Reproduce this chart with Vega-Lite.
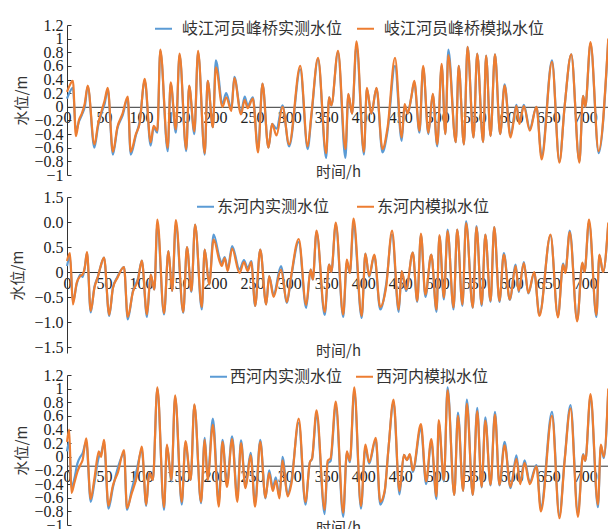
{
"$schema": "https://vega.github.io/schema/vega-lite/v6.json",
"autosize": {"type": "pad"},
"padding": {"left": 10, "top": 17, "right": 0, "bottom": 0},
"background": "white",
"config": {
  "font": "Liberation Serif",
  "view": {"stroke": null},
  "axis": {"grid": false, "labelFont": "'Times New Roman', 'Liberation Serif', 'DejaVu Serif', serif", "labelFontSize": 16, "labelColor": "#222", "domainColor": "#333", "tickColor": "#333", "titleFont": "Noto Sans CJK SC", "titleFontWeight": "normal", "titleFontSize": 15, "titleColor": "#333", "labelOverlap": false, "labelFlush": false},
  "legend": {"labelFont": "Noto Sans CJK SC", "labelFontSize": 16, "labelColor": "#333", "labelLimit": 400, "symbolType": "stroke", "symbolStrokeWidth": 2, "symbolSize": 289, "padding": 0, "title": null, "orient": "none", "direction": "horizontal"}
},
"datasets": {
"p1": [
{"h":0,"o":0.12,"s":0.22},{"h":3,"o":0.2,"s":0.3},{"h":8,"o":0.28,"s":0.38},{"h":12,"o":-0.36,"s":-0.43},{"h":16,"o":-0.22,"s":-0.2},{"h":20,"o":-0.12,"s":-0.1},{"h":24,"o":0.0,"s":0.05},{"h":28,"o":0.3,"s":0.31},{"h":37,"o":-0.6,"s":-0.55},{"h":42,"o":-0.28,"s":-0.25},{"h":47,"o":-0.08,"s":-0.05},{"h":51,"o":0.05,"s":0.1},{"h":55,"o":0.26,"s":0.28},{"h":62,"o":-0.7,"s":-0.66},{"h":68,"o":-0.32,"s":-0.3},{"h":75,"o":-0.13,"s":-0.1},{"h":82,"o":0.12,"s":0.15},{"h":86,"o":-0.7,"s":-0.66},{"h":93,"o":-0.42,"s":-0.4},{"h":98,"o":-0.22,"s":-0.25},{"h":105,"o":0.38,"s":0.41},{"h":113,"o":-0.57,"s":-0.52},{"h":117,"o":-0.3,"s":-0.28},{"h":122,"o":-0.38,"s":-0.35},{"h":126,"o":0.82,"s":0.84},{"h":136,"o":-0.65,"s":-0.6},{"h":140,"o":0.34,"s":0.36},{"h":147,"o":-0.38,"s":-0.33},{"h":152,"o":0.76,"s":0.78},{"h":161,"o":-0.65,"s":-0.62},{"h":165,"o":0.3,"s":0.31},{"h":172,"o":-0.4,"s":-0.36},{"h":177,"o":0.8,"s":0.82},{"h":186,"o":-0.7,"s":-0.68},{"h":190,"o":0.38,"s":0.38},{"h":197,"o":-0.3,"s":-0.3},{"h":201,"o":0.68,"s":0.58},{"h":210,"o":0.05,"s":0.0},{"h":215,"o":0.2,"s":0.14},{"h":222,"o":-0.03,"s":-0.06},{"h":226,"o":0.44,"s":0.42},{"h":235,"o":-0.08,"s":-0.11},{"h":240,"o":0.15,"s":0.1},{"h":244,"o":0.02,"s":-0.02},{"h":251,"o":0.14,"s":0.12},{"h":258,"o":-0.62,"s":-0.67},{"h":264,"o":0.34,"s":0.34},{"h":272,"o":-0.6,"s":-0.6},{"h":277,"o":-0.25,"s":-0.25},{"h":283,"o":-0.32,"s":-0.42},{"h":291,"o":0.02,"s":0.0},{"h":300,"o":-0.58,"s":-0.55},{"h":315,"o":0.55,"s":0.6},{"h":325,"o":-0.62,"s":-0.58},{"h":330,"o":-0.15,"s":-0.12},{"h":339,"o":0.7,"s":0.72},{"h":350,"o":-0.75,"s":-0.68},{"h":354,"o":0.14,"s":0.14},{"h":357,"o":0.02,"s":0.02},{"h":366,"o":0.8,"s":0.82},{"h":376,"o":-0.75,"s":-0.62},{"h":380,"o":0.18,"s":0.19},{"h":385,"o":-0.1,"s":-0.1},{"h":391,"o":0.9,"s":0.96},{"h":401,"o":-0.7,"s":-0.66},{"h":405,"o":0.26,"s":0.28},{"h":411,"o":-0.1,"s":-0.1},{"h":418,"o":0.27,"s":0.28},{"h":426,"o":-0.67,"s":-0.62},{"h":433,"o":-0.35,"s":-0.3},{"h":443,"o":0.6,"s":0.72},{"h":452,"o":-0.5,"s":-0.45},{"h":456,"o":0.02,"s":0.04},{"h":460,"o":-0.1,"s":-0.1},{"h":465,"o":0.14,"s":0.14},{"h":469,"o":0.36,"s":0.38},{"h":476,"o":-0.38,"s":-0.35},{"h":481,"o":0.58,"s":0.6},{"h":488,"o":-0.4,"s":-0.38},{"h":494,"o":0.18,"s":0.19},{"h":500,"o":-0.58,"s":-0.55},{"h":506,"o":0.6,"s":0.63},{"h":511,"o":-0.4,"s":-0.4},{"h":515,"o":0.84,"s":0.76},{"h":525,"o":-0.52,"s":-0.52},{"h":529,"o":0.6,"s":0.6},{"h":536,"o":-0.55,"s":-0.55},{"h":541,"o":0.88,"s":0.88},{"h":549,"o":-0.45,"s":-0.45},{"h":554,"o":0.78,"s":0.78},{"h":562,"o":-0.52,"s":-0.52},{"h":566,"o":0.75,"s":0.75},{"h":572,"o":-0.43,"s":-0.43},{"h":578,"o":0.77,"s":0.77},{"h":585,"o":-0.4,"s":-0.4},{"h":591,"o":0.33,"s":0.31},{"h":599,"o":-0.42,"s":-0.45},{"h":607,"o":0.03,"s":0.01},{"h":611,"o":-0.22,"s":-0.25},{"h":617,"o":0.03,"s":0.01},{"h":625,"o":-0.32,"s":-0.35},{"h":634,"o":0.0,"s":0.0},{"h":641,"o":-0.72,"s":-0.77},{"h":655,"o":0.68,"s":0.66},{"h":665,"o":-0.8,"s":-0.82},{"h":672,"o":0.0,"s":0.0},{"h":681,"o":0.77,"s":0.77},{"h":692,"o":-0.8,"s":-0.82},{"h":697,"o":0.16,"s":0.16},{"h":700,"o":0.0,"s":0.0},{"h":707,"o":0.93,"s":0.95},{"h":718,"o":-0.68,"s":-0.65},{"h":731,"o":0.98,"s":1.0}
],
"p2": [
{"h":0,"o":0.12,"s":0.22},{"h":4,"o":0.3,"s":0.38},{"h":8,"o":-0.6,"s":-0.65},{"h":13,"o":-0.25,"s":-0.22},{"h":18,"o":-0.05,"s":-0.08},{"h":21,"o":-0.1,"s":-0.05},{"h":24,"o":0.09,"s":0.09},{"h":27,"o":0.38,"s":0.4},{"h":32,"o":-0.81,"s":-0.78},{"h":37,"o":-0.3,"s":-0.32},{"h":42,"o":-0.08,"s":-0.08},{"h":45,"o":0.09,"s":0.09},{"h":50,"o":0.29,"s":0.29},{"h":57,"o":-0.88,"s":-0.86},{"h":62,"o":-0.32,"s":-0.32},{"h":68,"o":-0.1,"s":-0.12},{"h":77,"o":0.1,"s":0.1},{"h":82,"o":-0.95,"s":-0.9},{"h":89,"o":-0.38,"s":-0.4},{"h":96,"o":-0.12,"s":-0.15},{"h":101,"o":0.23,"s":0.23},{"h":108,"o":-0.9,"s":-0.85},{"h":113,"o":-0.05,"s":-0.05},{"h":118,"o":-0.35,"s":-0.35},{"h":122,"o":0.95,"s":1.05},{"h":131,"o":-0.85,"s":-0.82},{"h":137,"o":0.42,"s":0.42},{"h":142,"o":-0.38,"s":-0.38},{"h":147,"o":0.95,"s":1.04},{"h":157,"o":-0.82,"s":-0.8},{"h":162,"o":0.5,"s":0.5},{"h":168,"o":-0.4,"s":-0.38},{"h":173,"o":0.95,"s":0.95},{"h":182,"o":-0.75,"s":-0.7},{"h":186,"o":0.45,"s":0.45},{"h":192,"o":-0.25,"s":-0.25},{"h":198,"o":0.75,"s":0.65},{"h":206,"o":0.28,"s":0.22},{"h":209,"o":0.18,"s":0.12},{"h":213,"o":0.3,"s":0.28},{"h":217,"o":0.06,"s":0.02},{"h":223,"o":0.52,"s":0.47},{"h":233,"o":0.05,"s":-0.02},{"h":239,"o":0.24,"s":0.2},{"h":244,"o":0.08,"s":0.02},{"h":249,"o":0.22,"s":0.2},{"h":254,"o":-0.68,"s":-0.68},{"h":261,"o":0.45,"s":0.45},{"h":269,"o":-0.65,"s":-0.65},{"h":273,"o":-0.08,"s":-0.08},{"h":279,"o":-0.45,"s":-0.5},{"h":289,"o":0.12,"s":0.05},{"h":297,"o":-0.62,"s":-0.6},{"h":302,"o":-0.18,"s":-0.15},{"h":313,"o":0.6,"s":0.66},{"h":323,"o":-0.72,"s":-0.66},{"h":329,"o":0.05,"s":0.05},{"h":332,"o":-0.15,"s":-0.15},{"h":337,"o":0.8,"s":0.83},{"h":348,"o":-0.86,"s":-0.8},{"h":354,"o":0.15,"s":0.15},{"h":357,"o":0.0,"s":0.0},{"h":363,"o":0.95,"s":0.99},{"h":373,"o":-0.9,"s":-0.85},{"h":378,"o":0.2,"s":0.25},{"h":382,"o":-0.02,"s":-0.02},{"h":387,"o":0.95,"s":1.07},{"h":398,"o":-0.92,"s":-0.88},{"h":403,"o":0.37,"s":0.37},{"h":408,"o":-0.1,"s":-0.08},{"h":415,"o":0.33,"s":0.35},{"h":423,"o":-0.75,"s":-0.7},{"h":431,"o":-0.25,"s":-0.3},{"h":439,"o":0.75,"s":0.83},{"h":448,"o":-0.8,"s":-0.75},{"h":452,"o":0.02,"s":0.02},{"h":458,"o":-0.38,"s":-0.35},{"h":467,"o":0.39,"s":0.39},{"h":473,"o":-0.6,"s":-0.58},{"h":478,"o":0.75,"s":0.77},{"h":484,"o":-0.5,"s":-0.45},{"h":492,"o":0.35,"s":0.35},{"h":499,"o":-0.8,"s":-0.75},{"h":503,"o":0.72,"s":0.74},{"h":509,"o":-0.55,"s":-0.51},{"h":514,"o":0.85,"s":0.82},{"h":522,"o":-0.75,"s":-0.71},{"h":527,"o":0.85,"s":0.85},{"h":534,"o":-0.68,"s":-0.65},{"h":539,"o":1.02,"s":0.98},{"h":548,"o":-0.72,"s":-0.71},{"h":553,"o":0.92,"s":0.9},{"h":560,"o":-0.68,"s":-0.65},{"h":565,"o":0.75,"s":0.75},{"h":572,"o":-0.6,"s":-0.58},{"h":577,"o":0.9,"s":0.9},{"h":584,"o":-0.6,"s":-0.58},{"h":590,"o":0.38,"s":0.35},{"h":598,"o":-0.56,"s":-0.55},{"h":606,"o":0.15,"s":0.12},{"h":610,"o":-0.4,"s":-0.38},{"h":617,"o":0.2,"s":0.18},{"h":623,"o":-0.43,"s":-0.42},{"h":631,"o":-0.02,"s":0.0},{"h":638,"o":-0.85,"s":-0.88},{"h":653,"o":0.73,"s":0.75},{"h":663,"o":-0.88,"s":-0.91},{"h":670,"o":0.17,"s":0.15},{"h":673,"o":0.0,"s":-0.02},{"h":679,"o":0.83,"s":0.8},{"h":689,"o":-0.96,"s":-0.99},{"h":696,"o":0.17,"s":0.19},{"h":699,"o":0.0,"s":0.0},{"h":705,"o":1.0,"s":1.05},{"h":715,"o":-0.9,"s":-0.86},{"h":719,"o":0.33,"s":0.35},{"h":724,"o":0.0,"s":0.0},{"h":731,"o":0.95,"s":0.99}
],
"p3": [
{"h":0,"o":0.08,"s":0.22},{"h":3,"o":0.22,"s":0.4},{"h":6,"o":-0.45,"s":-0.53},{"h":10,"o":-0.32,"s":-0.38},{"h":14,"o":-0.1,"s":-0.22},{"h":18,"o":0.0,"s":-0.12},{"h":21,"o":0.05,"s":-0.05},{"h":26,"o":0.22,"s":0.27},{"h":32,"o":-0.66,"s":-0.62},{"h":37,"o":-0.38,"s":-0.32},{"h":43,"o":0.0,"s":0.08},{"h":46,"o":0.05,"s":0.0},{"h":50,"o":0.2,"s":0.25},{"h":56,"o":-0.76,"s":-0.72},{"h":62,"o":-0.45,"s":-0.42},{"h":69,"o":-0.15,"s":-0.22},{"h":77,"o":0.05,"s":0.1},{"h":81,"o":-0.78,"s":-0.75},{"h":87,"o":-0.5,"s":-0.55},{"h":94,"o":-0.2,"s":-0.3},{"h":101,"o":0.1,"s":0.15},{"h":107,"o":-0.72,"s":-0.7},{"h":111,"o":-0.24,"s":-0.24},{"h":116,"o":-0.34,"s":-0.34},{"h":122,"o":1.0,"s":1.02},{"h":131,"o":-0.78,"s":-0.74},{"h":135,"o":0.16,"s":0.18},{"h":141,"o":-0.36,"s":-0.34},{"h":146,"o":0.88,"s":0.9},{"h":155,"o":-0.7,"s":-0.66},{"h":160,"o":0.2,"s":0.23},{"h":167,"o":-0.34,"s":-0.34},{"h":172,"o":0.76,"s":0.77},{"h":181,"o":-0.68,"s":-0.66},{"h":186,"o":0.28,"s":0.25},{"h":190,"o":-0.3,"s":-0.34},{"h":197,"o":0.56,"s":0.47},{"h":205,"o":-0.66,"s":-0.73},{"h":210,"o":0.25,"s":0.22},{"h":216,"o":-0.4,"s":-0.44},{"h":223,"o":0.3,"s":0.26},{"h":230,"o":-0.6,"s":-0.66},{"h":235,"o":0.24,"s":0.2},{"h":241,"o":-0.44,"s":-0.46},{"h":248,"o":0.06,"s":0.02},{"h":254,"o":-0.68,"s":-0.73},{"h":261,"o":0.25,"s":0.22},{"h":268,"o":-0.61,"s":-0.6},{"h":273,"o":-0.2,"s":-0.24},{"h":278,"o":-0.45,"s":-0.5},{"h":282,"o":-0.3,"s":-0.35},{"h":287,"o":-0.58,"s":-0.61},{"h":291,"o":0.0,"s":-0.05},{"h":298,"o":-0.55,"s":-0.58},{"h":303,"o":-0.35,"s":-0.4},{"h":313,"o":0.5,"s":0.56},{"h":322,"o":-0.7,"s":-0.66},{"h":328,"o":-0.08,"s":-0.08},{"h":331,"o":-0.03,"s":-0.02},{"h":337,"o":0.62,"s":0.68},{"h":348,"o":-0.84,"s":-0.78},{"h":352,"o":-0.1,"s":-0.06},{"h":356,"o":-0.06,"s":-0.02},{"h":363,"o":0.75,"s":0.81},{"h":373,"o":-0.88,"s":-0.82},{"h":378,"o":0.06,"s":0.08},{"h":382,"o":-0.08,"s":-0.06},{"h":388,"o":0.96,"s":1.02},{"h":397,"o":-0.76,"s":-0.72},{"h":403,"o":0.14,"s":0.18},{"h":408,"o":-0.1,"s":-0.08},{"h":417,"o":0.25,"s":0.28},{"h":423,"o":-0.7,"s":-0.66},{"h":429,"o":-0.52,"s":-0.5},{"h":434,"o":0.1,"s":0.1},{"h":441,"o":0.8,"s":0.84},{"h":449,"o":-0.55,"s":-0.5},{"h":455,"o":0.03,"s":0.03},{"h":459,"o":-0.05,"s":-0.05},{"h":463,"o":0.03,"s":0.04},{"h":467,"o":-0.22,"s":-0.2},{"h":478,"o":0.42,"s":0.48},{"h":485,"o":-0.4,"s":-0.36},{"h":492,"o":0.22,"s":0.26},{"h":499,"o":-0.62,"s":-0.58},{"h":502,"o":0.5,"s":0.54},{"h":509,"o":-0.36,"s":-0.34},{"h":514,"o":1.02,"s":0.98},{"h":523,"o":-0.56,"s":-0.56},{"h":528,"o":0.65,"s":0.6},{"h":535,"o":-0.5,"s":-0.5},{"h":540,"o":0.84,"s":0.78},{"h":548,"o":-0.56,"s":-0.56},{"h":554,"o":0.72,"s":0.67},{"h":560,"o":-0.45,"s":-0.44},{"h":565,"o":0.58,"s":0.53},{"h":572,"o":-0.42,"s":-0.41},{"h":578,"o":0.66,"s":0.62},{"h":584,"o":-0.42,"s":-0.41},{"h":591,"o":0.22,"s":0.17},{"h":599,"o":-0.46,"s":-0.44},{"h":607,"o":0.02,"s":-0.03},{"h":612,"o":-0.37,"s":-0.4},{"h":618,"o":-0.05,"s":-0.09},{"h":625,"o":-0.37,"s":-0.4},{"h":634,"o":-0.12,"s":-0.14},{"h":640,"o":-0.75,"s":-0.8},{"h":655,"o":0.66,"s":0.6},{"h":665,"o":-0.86,"s":-0.9},{"h":672,"o":-0.05,"s":-0.07},{"h":680,"o":0.76,"s":0.71},{"h":690,"o":-0.83,"s":-0.88},{"h":697,"o":0.04,"s":0.03},{"h":700,"o":-0.06,"s":-0.06},{"h":707,"o":0.88,"s":0.92},{"h":717,"o":-0.74,"s":-0.7},{"h":721,"o":0.16,"s":0.18},{"h":725,"o":-0.02,"s":0.0},{"h":731,"o":0.96,"s":1.0}
]
},
"vconcat": [
{
"width": 542, "height": 150,
"data": {"name": "p1"},
"encoding": {"x": {"field": "h", "type": "quantitative", "scale": {"domain": [0, 732], "nice": false, "zero": false},
  "axis": {"values": [0,50,100,150,200,250,300,350,400,450,500,550,600,650,700], "offset": -68.2, "ticks": false, "labelPadding": 3, "title": "时间/h", "titleY": 65, "titleBaseline": "middle"}}},
"layer": [
{"mark": {"type": "line", "interpolate": "monotone", "strokeWidth": 2.2},
 "encoding": {"y": {"field": "o", "type": "quantitative", "scale": {"domain": [-1, 1.2], "nice": false, "zero": false}, "axis": {"values": [-1,-0.8,-0.6,-0.4,-0.2,0,0.2,0.4,0.6,0.8,1,1.2], "format": "~g", "tickSize": -4, "labelPadding": 8, "title": "水位/m", "titlePadding": 4}},
  "color": {"datum": "岐江河员峰桥实测水位", "scale": {"domain": ["岐江河员峰桥实测水位", "岐江河员峰桥模拟水位"], "range": ["#5B9BD5", "#ED7D31"]}, "legend": {"legendX": 87, "legendY": -6, "labelOffset": 9, "columnPadding": 10, "labelExpr": "datum.label == '岐江河员峰桥模拟水位' ? '\u00a0\u00a0\u00a0' + datum.label : datum.label"}}}},
{"mark": {"type": "line", "interpolate": "monotone", "strokeWidth": 2.2},
 "encoding": {"y": {"field": "s", "type": "quantitative", "scale": {"domain": [-1, 1.2], "nice": false, "zero": false}, "axis": {"values": [-1,-0.8,-0.6,-0.4,-0.2,0,0.2,0.4,0.6,0.8,1,1.2], "format": "~g", "tickSize": -4, "labelPadding": 8, "title": "水位/m", "titlePadding": 4}},
  "color": {"datum": "岐江河员峰桥模拟水位", "scale": {"domain": ["岐江河员峰桥实测水位", "岐江河员峰桥模拟水位"], "range": ["#5B9BD5", "#ED7D31"]}, "legend": {"legendX": 87, "legendY": -6, "labelOffset": 9, "columnPadding": 10, "labelExpr": "datum.label == '岐江河员峰桥模拟水位' ? '\u00a0\u00a0\u00a0' + datum.label : datum.label"}}}}
]
},
{
"width": 542, "height": 156,
"data": {"name": "p2"},
"encoding": {"x": {"field": "h", "type": "quantitative", "scale": {"domain": [0, 732], "nice": false, "zero": false},
  "axis": {"values": [0,50,100,150,200,250,300,350,400,450,500,550,600,650,700], "offset": -81, "ticks": false, "labelPadding": 3, "title": "时间/h", "titleY": 78, "titleBaseline": "middle"}}},
"layer": [
{"mark": {"type": "line", "interpolate": "monotone", "strokeWidth": 2.2},
 "encoding": {"y": {"field": "o", "type": "quantitative", "scale": {"domain": [-1.62, 1.5], "nice": false, "zero": false}, "axis": {"values": [-1.5,-1,-0.5,0,0.5,1,1.5], "labelExpr": "datum.value == 1 ? '0.0' : datum.value == 0 ? '0' : format(datum.value, '.1f')", "tickSize": -4, "labelPadding": 8, "title": "水位/m", "titlePadding": 8}},
  "color": {"datum": "东河内实测水位", "scale": {"domain": ["东河内实测水位", "东河内模拟水位"], "range": ["#5B9BD5", "#ED7D31"]}, "legend": {"legendX": 129, "legendY": 0, "labelOffset": 2, "columnPadding": 23}}}},
{"mark": {"type": "line", "interpolate": "monotone", "strokeWidth": 2.2},
 "encoding": {"y": {"field": "s", "type": "quantitative", "scale": {"domain": [-1.62, 1.5], "nice": false, "zero": false}, "axis": {"values": [-1.5,-1,-0.5,0,0.5,1,1.5], "labelExpr": "datum.value == 1 ? '0.0' : datum.value == 0 ? '0' : format(datum.value, '.1f')", "tickSize": -4, "labelPadding": 8, "title": "水位/m", "titlePadding": 8}},
  "color": {"datum": "东河内模拟水位", "scale": {"domain": ["东河内实测水位", "东河内模拟水位"], "range": ["#5B9BD5", "#ED7D31"]}, "legend": {"legendX": 129, "legendY": 0, "labelOffset": 2, "columnPadding": 23}}}}
]
},
{
"width": 542, "height": 150,
"data": {"name": "p3"},
"encoding": {"x": {"field": "h", "type": "quantitative", "scale": {"domain": [0, 732], "nice": false, "zero": false},
  "axis": {"values": [0,50,100,150,200,250,300,350,400,450,500,550,600,650,700], "offset": -59.3, "ticks": false, "labelPadding": 3, "title": "时间/h", "titleY": 62, "titleBaseline": "middle"}}},
"layer": [
{"mark": {"type": "line", "interpolate": "monotone", "strokeWidth": 2.2},
 "encoding": {"y": {"field": "o", "type": "quantitative", "scale": {"domain": [-1, 1.2], "nice": false, "zero": false}, "axis": {"values": [-1,-0.8,-0.6,-0.4,-0.2,0,0.2,0.4,0.6,0.8,1,1.2], "format": "~g", "tickSize": -4, "labelPadding": 8, "title": "水位/m", "titlePadding": 4}},
  "color": {"datum": "西河内实测水位", "scale": {"domain": ["西河内实测水位", "西河内模拟水位"], "range": ["#5B9BD5", "#ED7D31"]}, "legend": {"legendX": 142, "legendY": -8, "labelOffset": 2, "columnPadding": 9}}}},
{"mark": {"type": "line", "interpolate": "monotone", "strokeWidth": 2.2},
 "encoding": {"y": {"field": "s", "type": "quantitative", "scale": {"domain": [-1, 1.2], "nice": false, "zero": false}, "axis": {"values": [-1,-0.8,-0.6,-0.4,-0.2,0,0.2,0.4,0.6,0.8,1,1.2], "format": "~g", "tickSize": -4, "labelPadding": 8, "title": "水位/m", "titlePadding": 4}},
  "color": {"datum": "西河内模拟水位", "scale": {"domain": ["西河内实测水位", "西河内模拟水位"], "range": ["#5B9BD5", "#ED7D31"]}, "legend": {"legendX": 142, "legendY": -8, "labelOffset": 2, "columnPadding": 9}}}}
]
}
],
"spacing": 22,
"bounds": "flush",
"resolve": {"scale": {"color": "independent"}, "legend": {"color": "independent"}}
}
